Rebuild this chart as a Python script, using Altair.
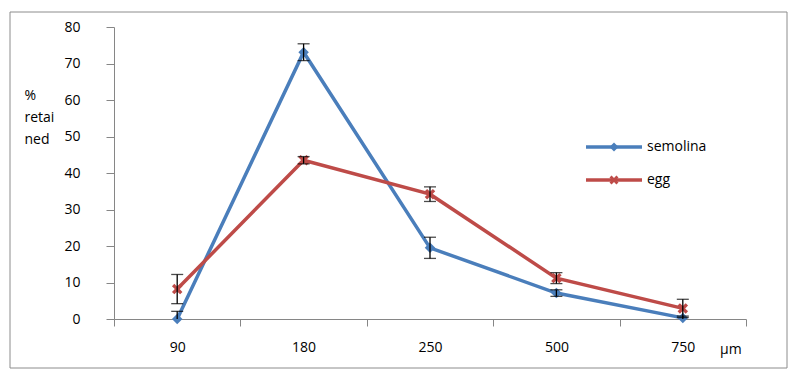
import altair as alt
import pandas as pd

sizes = ["90", "180", "250", "500", "750"]
series_names = ["semolina", "egg"]
semolina = [0.0, 73.1, 19.5, 7.1, 0.3]
semolina_err = [2.1, 2.3, 2.9, 0.9, 0.5]
egg = [8.2, 43.5, 34.2, 11.2, 2.9]
egg_err = [4.0, 1.0, 2.0, 1.5, 2.5]
y_ticks = [0, 10, 20, 30, 40, 50, 60, 70, 80]

colors = ["#4A7EBB", "#BE4B48"]
x_path = ("M-1,-0.55L-0.55,-1L0,-0.45L0.55,-1L1,-0.55L0.45,0L1,0.55L0.55,1"
          "L0,0.45L-0.55,1L-1,0.55L-0.45,0Z")
shapes = ["diamond", x_path]

rows = []
for name, vals, errs in [("semolina", semolina, semolina_err), ("egg", egg, egg_err)]:
    for s, v, e in zip(sizes, vals, errs):
        rows.append({"size": s, "series": name, "value": v, "lo": v - e, "hi": v + e})
df = pd.DataFrame(rows)

FONT = "Open Sans"
FS = 14

x_axis = alt.Axis(title=None, labelAngle=0, tickBand="extent", labelPadding=14, tickSize=7)
x_scale = alt.Scale(type="band", paddingInner=0, paddingOuter=0)
x_enc = alt.X("size:N", sort=sizes, scale=x_scale, axis=x_axis)
y_scale = alt.Scale(domain=[0, 80], nice=False)
y_axis = alt.Axis(values=y_ticks, tickCount=9, labelOverlap=False, grid=False, tickSize=8,
                  labelPadding=26,
                  title=["%", "retai", "ned"], titleAngle=0, titleAlign="left",
                  titleBaseline="top", titleX=-90, titleY=61, titleLineHeight=22,
                  titleFontWeight="normal", titleFontSize=FS, titleFont=FONT)


def Y(field):
    return alt.Y(field, scale=y_scale, axis=y_axis)


color_enc = alt.Color("series:N", scale=alt.Scale(domain=series_names, range=colors), legend=None)

base = alt.Chart(df)

lines = base.mark_line(strokeWidth=3.5).encode(
    x=x_enc, y=Y("value:Q"), color=color_enc, detail="series:N")

points = base.mark_point(filled=True, size=110, opacity=1).encode(
    x=x_enc, y=Y("value:Q"), color=color_enc,
    shape=alt.Shape("series:N", scale=alt.Scale(domain=series_names, range=shapes), legend=None))

err_rule = base.mark_rule(color="black", strokeWidth=1.3, clip=True).encode(
    x=x_enc, y=Y("lo:Q"), y2="hi:Q")
cap_hi = base.mark_tick(color="black", thickness=1.3, size=12, clip=True).encode(
    x=x_enc, y=Y("hi:Q"))
cap_lo = base.mark_tick(color="black", thickness=1.3, size=12, clip=True).encode(
    x=x_enc, y=Y("lo:Q"))

one = alt.Data(values=[{"k": 1}])
border = alt.Chart(one).mark_rect(fill=None, stroke="#8C8C8C", strokeWidth=1).encode(
    x=alt.value(-104), x2=alt.value(673), y=alt.value(-15), y2=alt.value(341))

unit = alt.Chart(one).mark_text(font=FONT, fontSize=FS, color="black", align="left",
                                baseline="middle").encode(
    x=alt.value(606), y=alt.value(323), text=alt.value("µm"))

legend_layers = []
for i, name in enumerate(series_names):
    ly = 120 + 33 * i
    legend_layers.append(alt.Chart(one).mark_rule(color=colors[i], strokeWidth=3.5).encode(
        x=alt.value(472), x2=alt.value(528), y=alt.value(ly)))
    legend_layers.append(alt.Chart(one).mark_point(filled=True, size=80, opacity=1,
                                                   color=colors[i], shape=shapes[i]).encode(
        x=alt.value(500), y=alt.value(ly)))
    legend_layers.append(alt.Chart(one).mark_text(font=FONT, fontSize=FS, color="black",
                                                  align="left", baseline="middle").encode(
        x=alt.value(533), y=alt.value(ly), text=alt.value(name)))

chart = alt.layer(lines, points, err_rule, cap_hi, cap_lo, border, unit, *legend_layers).properties(
    width=632, height=292,
    padding={"left": 106, "top": 19, "right": 46, "bottom": 53},
    autosize=alt.AutoSizeParams(type="none"),
    background="white",
).configure_view(stroke=None).configure_axis(
    labelFont=FONT, labelFontSize=FS, labelColor="black",
    domainColor="#868686", tickColor="#868686", domainWidth=1, tickWidth=1,
)

chart.save("out.html", embed_options={"renderer": "svg", "actions": False})
